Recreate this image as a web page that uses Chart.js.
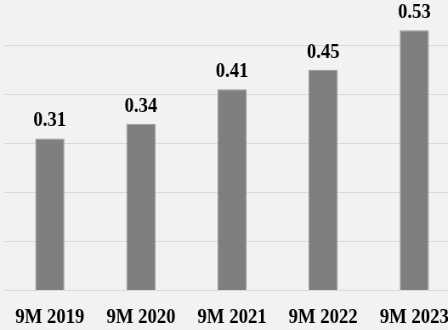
<!DOCTYPE html>
<html>
<head>
<meta charset="utf-8">
<script src="https://cdn.jsdelivr.net/npm/chart.js@4"></script>
<style>
  html, body { margin: 0; padding: 0; background: #f2f2f2; overflow: hidden; }
  /* the source picture is horizontally condensed, so the chart is squeezed a little */
  #wrap { position: absolute; left: 0; top: -4px; width: 545px; height: 349px; transform: scaleX(0.85); transform-origin: 0 0; }
</style>
</head>
<body>
<div id="wrap"><canvas id="chart" width="545" height="349"></canvas></div>
<script>
const periods = ['9M 2019', '9M 2020', '9M 2021', '9M 2022', '9M 2023'];
const values = [0.31, 0.34, 0.41, 0.45, 0.53];
const valueLabels = ['0.31', '0.34', '0.41', '0.45', '0.53'];

const fontFamily = '"Liberation Serif", "Times New Roman", serif';

// draws the value above each bar
const barValues = {
    id: 'barValues',
    afterDatasetsDraw(chart) {
        const ctx = chart.ctx;
        const meta = chart.getDatasetMeta(0);
        ctx.save();
        ctx.font = 'bold 22px ' + fontFamily;
        ctx.fillStyle = '#000000';
        ctx.textAlign = 'center';
        ctx.textBaseline = 'alphabetic';
        meta.data.forEach((bar, i) => {
            ctx.fillText(valueLabels[i], bar.x, bar.y - 12);
        });
        ctx.restore();
    }
};

new Chart(document.getElementById('chart').getContext('2d'), {
    type: 'bar',
    data: {
        labels: periods,
        datasets: [{
            data: values,
            backgroundColor: '#7f7f7f',
            borderColor: '#959595',
            borderWidth: 1,
            categoryPercentage: 1,
            barPercentage: 0.32
        }]
    },
    options: {
        responsive: false,
        animation: false,
        layout: { padding: { left: 5, right: 4, top: 0, bottom: 0 } },
        plugins: {
            legend: { display: false },
            tooltip: { enabled: false }
        },
        scales: {
            x: {
                grid: { display: false, drawTicks: false },
                border: { display: false },
                ticks: {
                    color: '#000000',
                    font: { family: fontFamily, size: 22, weight: 'bold' },
                    padding: 14,
                    autoSkip: false,
                    maxRotation: 0
                }
            },
            y: {
                min: 0,
                max: 0.6,
                ticks: { display: false, stepSize: 0.1 },
                grid: { color: '#d9d9d9', lineWidth: 1, drawTicks: false },
                border: { display: false },
                afterFit(scale) { scale.width = 0; }
            }
        }
    },
    plugins: [barValues]
});
</script>
</body>
</html>
